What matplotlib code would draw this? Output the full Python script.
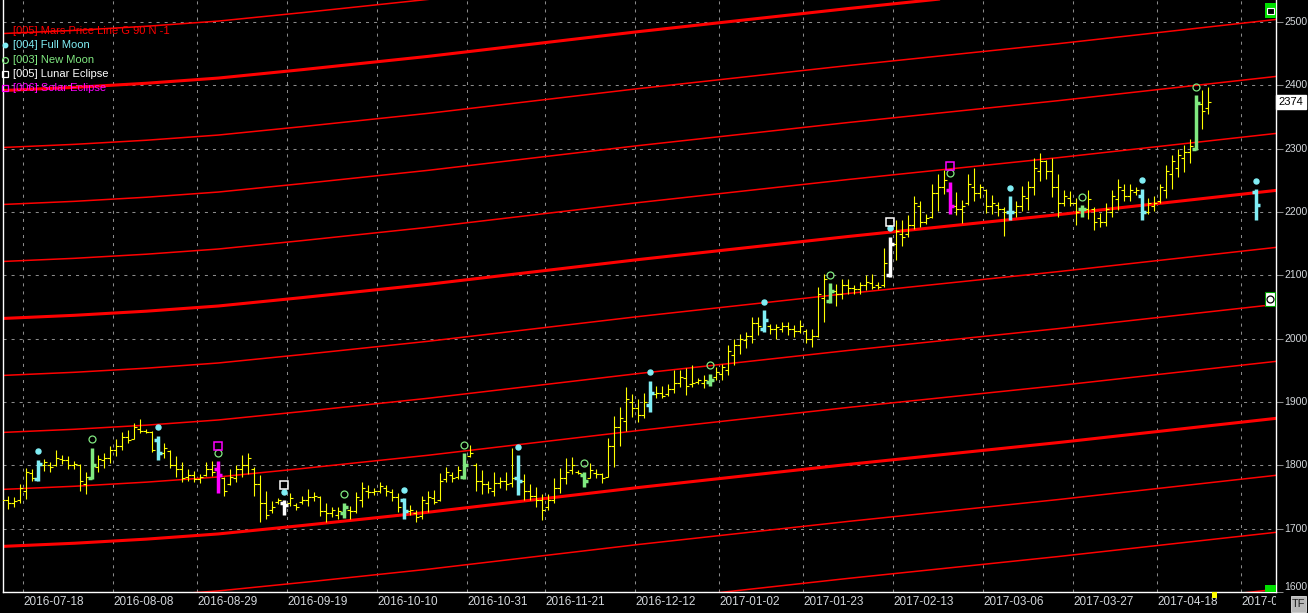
import matplotlib
matplotlib.use("Agg")
import matplotlib.pyplot as plt
from matplotlib.lines import Line2D
from matplotlib.patches import Rectangle
from matplotlib.transforms import Bbox, TransformedBbox, offset_copy, blended_transform_factory

plt.rcParams['font.family'] = ['Liberation Sans', 'DejaVu Sans']
plt.rcParams['lines.scale_dashes'] = False

# daily bars, oldest first; x position = bar number
bar_high = [
    1762, 1752, 1750, 1770, 1796, 1794, 1809, 1810, 1805, 1825,
    1817, 1815, 1807, 1802, 1789, 1828, 1817, 1820, 1830, 1842,
    1852, 1856, 1867, 1873, 1857, 1855, 1847, 1835, 1825, 1815,
    1805, 1795, 1791, 1786, 1805, 1807, 1807, 1782, 1795, 1801,
    1816, 1819, 1798, 1785, 1760, 1744, 1748, 1745, 1756, 1741,
    1751, 1762, 1758, 1751, 1740, 1735, 1735, 1741, 1736, 1758,
    1774, 1769, 1764, 1774, 1769, 1762, 1757, 1748, 1737, 1730,
    1751, 1759, 1761, 1788, 1798, 1790, 1799, 1819, 1832, 1803,
    1792, 1775, 1790, 1782, 1789, 1828, 1816, 1786, 1770, 1766,
    1755, 1755, 1780, 1796, 1811, 1813, 1793, 1790, 1803, 1795,
    1788, 1844, 1878, 1892, 1923, 1913, 1905, 1915, 1934, 1925,
    1925, 1929, 1951, 1950, 1953, 1959, 1938, 1943, 1945, 1956,
    1960, 1990, 1999, 2007, 2011, 2034, 2034, 2045, 2023, 2024,
    2027, 2027, 2022, 2030, 2015, 2015, 2082, 2102, 2088, 2086,
    2094, 2094, 2085, 2090, 2101, 2102, 2090, 2143, 2161, 2188,
    2188, 2195, 2225, 2218, 2197, 2244, 2260, 2267, 2248, 2232,
    2219, 2260, 2269, 2245, 2237, 2227, 2216, 2208, 2225, 2218,
    2241, 2249, 2285, 2293, 2282, 2285, 2260, 2235, 2234, 2222,
    2211, 2235, 2208, 2199, 2214, 2235, 2252, 2244, 2244, 2240,
    2237, 2222, 2225, 2245, 2274, 2290, 2299, 2306, 2316, 2385,
    2393, 2397,
]
bar_low = [
    1721, 1731, 1735, 1741, 1747, 1775, 1775, 1791, 1790, 1799,
    1802, 1795, 1794, 1760, 1755, 1778, 1789, 1796, 1804, 1815,
    1825, 1835, 1842, 1851, 1851, 1821, 1808, 1812, 1796, 1781,
    1774, 1775, 1774, 1772, 1783, 1783, 1756, 1752, 1769, 1773,
    1782, 1787, 1752, 1710, 1715, 1724, 1739, 1722, 1736, 1730,
    1739, 1736, 1743, 1720, 1711, 1718, 1715, 1717, 1715, 1724,
    1735, 1748, 1753, 1756, 1751, 1744, 1727, 1715, 1722, 1711,
    1715, 1727, 1739, 1744, 1774, 1773, 1778, 1778, 1814, 1759,
    1755, 1756, 1752, 1765, 1761, 1766, 1753, 1746, 1745, 1735,
    1713, 1729, 1741, 1756, 1770, 1786, 1786, 1766, 1780, 1780,
    1772, 1781, 1798, 1831, 1855, 1876, 1869, 1875, 1885, 1907,
    1906, 1910, 1914, 1923, 1911, 1924, 1929, 1922, 1925, 1935,
    1935, 1943, 1958, 1976, 1985, 1993, 2006, 2011, 2007, 2000,
    2011, 2006, 2003, 2009, 1993, 1987, 2003, 2027, 2056, 2052,
    2062, 2070, 2070, 2070, 2077, 2078, 2079, 2082, 2097, 2125,
    2146, 2161, 2173, 2176, 2182, 2190, 2202, 2228, 2197, 2195,
    2183, 2211, 2218, 2223, 2198, 2197, 2194, 2162, 2187, 2192,
    2201, 2203, 2227, 2249, 2252, 2224, 2193, 2209, 2209, 2180,
    2193, 2189, 2172, 2177, 2178, 2193, 2203, 2218, 2218, 2227,
    2187, 2197, 2201, 2215, 2222, 2236, 2255, 2264, 2278, 2298,
    2331, 2355,
]
bar_open = [
    1725, 1745, 1740, 1745, 1760, 1788, 1778, 1800, 1800, 1800,
    1810, 1808, 1800, 1800, 1770, 1780, 1798, 1808, 1812, 1825,
    1830, 1845, 1842, 1858, 1855, 1852, 1840, 1820, 1822, 1800,
    1795, 1782, 1785, 1778, 1785, 1795, 1795, 1780, 1770, 1780,
    1795, 1800, 1795, 1770, 1740, 1730, 1742, 1740, 1740, 1738,
    1742, 1745, 1750, 1750, 1728, 1725, 1722, 1725, 1730, 1728,
    1745, 1760, 1758, 1760, 1765, 1758, 1750, 1745, 1728, 1725,
    1720, 1740, 1748, 1745, 1778, 1785, 1782, 1782, 1815, 1800,
    1775, 1770, 1760, 1772, 1775, 1772, 1780, 1775, 1760, 1752,
    1745, 1735, 1745, 1765, 1780, 1792, 1790, 1785, 1780, 1788,
    1786, 1782, 1830, 1860, 1870, 1900, 1890, 1880, 1895, 1912,
    1915, 1912, 1920, 1930, 1938, 1928, 1932, 1930, 1932, 1940,
    1945, 1950, 1975, 1990, 1998, 2005, 2025, 2015, 2020, 2015,
    2015, 2020, 2015, 2012, 2012, 2000, 2005, 2065, 2060, 2075,
    2070, 2085, 2080, 2078, 2085, 2088, 2085, 2085, 2100, 2150,
    2165, 2165, 2180, 2210, 2185, 2192, 2230, 2240, 2235, 2210,
    2205, 2215, 2240, 2230, 2235, 2210, 2212, 2205, 2200, 2200,
    2210, 2222, 2240, 2265, 2280, 2265, 2240, 2215, 2222, 2215,
    2205, 2205, 2205, 2190, 2185, 2200, 2220, 2235, 2225, 2232,
    2225, 2200, 2210, 2218, 2235, 2260, 2270, 2285, 2295, 2300,
    2370, 2365,
]
bar_close = [
    1745, 1740, 1743, 1765, 1790, 1780, 1802, 1805, 1797, 1812,
    1808, 1800, 1802, 1775, 1782, 1800, 1810, 1812, 1825, 1830,
    1845, 1840, 1860, 1855, 1852, 1825, 1820, 1828, 1800, 1795,
    1780, 1785, 1778, 1782, 1795, 1790, 1785, 1760, 1782, 1795,
    1800, 1812, 1770, 1740, 1722, 1735, 1745, 1738, 1748, 1735,
    1745, 1750, 1752, 1728, 1725, 1730, 1728, 1735, 1728, 1750,
    1765, 1758, 1760, 1768, 1760, 1750, 1735, 1728, 1730, 1718,
    1745, 1750, 1742, 1775, 1790, 1780, 1792, 1800, 1820, 1775,
    1770, 1765, 1772, 1775, 1770, 1780, 1775, 1760, 1752, 1745,
    1730, 1745, 1765, 1780, 1790, 1800, 1788, 1775, 1792, 1786,
    1780, 1830, 1860, 1875, 1905, 1890, 1880, 1900, 1915, 1915,
    1910, 1920, 1930, 1940, 1925, 1930, 1935, 1935, 1935, 1948,
    1955, 1980, 1990, 2000, 2005, 2025, 2020, 2030, 2015, 2018,
    2020, 2015, 2012, 2020, 2000, 2005, 2070, 2095, 2075, 2070,
    2085, 2080, 2078, 2085, 2090, 2082, 2082, 2120, 2150, 2170,
    2160, 2180, 2215, 2185, 2190, 2230, 2240, 2250, 2210, 2205,
    2210, 2245, 2230, 2240, 2210, 2215, 2205, 2200, 2200, 2210,
    2225, 2240, 2270, 2280, 2265, 2240, 2215, 2225, 2215, 2200,
    2205, 2220, 2185, 2185, 2205, 2225, 2240, 2225, 2235, 2235,
    2200, 2215, 2215, 2240, 2265, 2280, 2290, 2295, 2305, 2372,
    2360, 2374,
]

# projected full-moon bar beyond the last session
proj_bar = 209
proj_ohlc = (2232, 2236, 2187, 2212)

full_moon_bars = [6, 26, 47, 67, 86, 108, 127, 148, 168, 190, 209]
new_moon_bars = [15, 36, 57, 77, 97, 118, 138, 158, 180, 199]
lunar_eclipse_bars = [47, 148]
solar_eclipse_bars = [36, 158]

# Mars price lines: every 90 points, shifted along the Mars curve
mars_base = 1672
mars_step = 90
mars_levels = range(-3, 10)
mars_bar = [0, 12, 24, 36, 50, 71, 106, 141, 176, 213]
mars_shift = [0, 5, 11.5, 19.7, 33, 54, 93, 129.5, 164, 203]

grid_bars = [3.5, 18.5, 32.5, 47.5, 62.5, 77.5, 90.5, 105.5, 119.5, 133.5,
             148.5, 163.5, 178.5, 192.5, 206.5]
grid_dates = ['2016-07-18', '2016-08-08', '2016-08-29', '2016-09-19', '2016-10-10',
              '2016-10-31', '2016-11-21', '2016-12-12', '2017-01-02', '2017-01-23',
              '2017-02-13', '2017-03-06', '2017-03-27', '2017-04-18', '2017-05-08']
price_ticks = list(range(1600, 2501, 100))

YELLOW = '#ffff00'
CYAN = '#80eef5'
GREEN = '#80e880'
MAGENTA = '#ff00ff'
WHITE = '#ffffff'
RED = '#ff0000'
TXT = '#d4d8dc'

W, H = 1308, 613
fig = plt.figure(figsize=(W / 100, H / 100), dpi=100, facecolor='black')
ax = fig.add_axes([3 / W, 21 / H, 1273 / W, 592 / H], facecolor='black')
ax.set_xlim(0.12, 212.3)
ax.set_ylim(1600, 2535)

for s in ['left', 'bottom', 'right']:
    ax.spines[s].set_color('white')
    ax.spines[s].set_linewidth(1.0)
ax.spines['top'].set_visible(False)

ax.set_xticks(grid_bars)
ax.set_yticks(price_ticks)
ax.grid(True, color='#8a8a8a', linestyle=(0, (2.2, 3.6)), linewidth=0.75, zorder=0)
ax.set_axisbelow(True)
ax.tick_params(axis='x', length=0, labelbottom=False)
ax.yaxis.tick_right()
ax.tick_params(axis='y', length=5, width=0.75, color='#8a8a8a', labelright=False)

# price labels on the right; the lowest one sits just above the TF button
ytag = blended_transform_factory(ax.transAxes, ax.transData)
for p in price_ticks:
    ax.text(1.0063, p, str(p), transform=ytag, ha='left',
            va='bottom' if p == price_ticks[0] else 'center',
            fontsize=7.5, color=TXT, clip_on=False)

# date labels, cut at the right edge of the plot like the source
clip = TransformedBbox(Bbox([[0, -1], [1, 1]]), ax.transAxes)
xdate = blended_transform_factory(ax.transData, ax.transAxes)
for xb, lbl in zip(grid_bars, grid_dates):
    t = ax.text(xb, -0.006, lbl, transform=xdate, ha='left', va='top',
                fontsize=8.5, color=TXT, clip_on=True)
    t.set_clip_box(clip)

# Mars price lines
for k in mars_levels:
    lvl = mars_base + k * mars_step
    bold = (k % 4 == 0)
    ax.plot(mars_bar, [lvl + s for s in mars_shift], color=RED,
            lw=2.2 if bold else 1.1, zorder=2, solid_capstyle='butt')


def bar_color(i):
    if i in lunar_eclipse_bars:
        return WHITE
    if i in solar_eclipse_bars:
        return MAGENTA
    if i in full_moon_bars:
        return CYAN
    if i in new_moon_bars:
        return GREEN
    return YELLOW


def draw_bar(i, o, h, l, c):
    col = bar_color(i)
    special = col != YELLOW
    lw = 2.5 if special else 0.8
    tk = 0.65 if special else 0.5
    z = 4 if special else 3
    ax.vlines(i, l, h, color=col, lw=lw, zorder=z)
    ax.hlines(o, i - tk, i, color=col, lw=lw, zorder=z)
    ax.hlines(c, i, i + tk, color=col, lw=lw, zorder=z)


for i in range(len(bar_high)):
    draw_bar(i, bar_open[i], bar_high[i], bar_low[i], bar_close[i])
draw_bar(proj_bar, *proj_ohlc)


def high_of(i):
    return proj_ohlc[1] if i == proj_bar else bar_high[i]


up1 = offset_copy(ax.transData, fig=fig, y=6.0, units='points')
up2 = offset_copy(ax.transData, fig=fig, y=11.0, units='points')
for i in full_moon_bars:
    ax.plot(i, high_of(i), 'o', ms=3.6, color=CYAN, mec=CYAN, transform=up1,
            zorder=5, clip_on=False)
for i in new_moon_bars:
    ax.plot(i, high_of(i), 'o', ms=5.0, mfc='none', mec=GREEN, mew=0.9,
            transform=up1, zorder=5)
for i in lunar_eclipse_bars:
    ax.plot(i, high_of(i), 's', ms=5.2, mfc='none', mec=WHITE, mew=1.1,
            transform=up2, zorder=5)
for i in solar_eclipse_bars:
    ax.plot(i, high_of(i), 's', ms=5.2, mfc='none', mec=MAGENTA, mew=1.1,
            transform=up2, zorder=5)

# last price tag
ax.text(1.0118, bar_close[-1], str(bar_close[-1]), transform=ytag, ha='center',
        va='center', fontsize=8, color='black', clip_on=False, zorder=6,
        bbox=dict(boxstyle='square,pad=0.2', fc='white', ec='white'))


def px_rect(x0, y0, x1, y1, **kw):
    fig.add_artist(Rectangle((x0 / W, 1 - y1 / H), (x1 - x0) / W, (y1 - y0) / H,
                             transform=fig.transFigure, **kw))


# legend
legend = [
    ('[005] Mars Price Line G 90 N -1', RED, None),
    ('[004] Full Moon', CYAN, dict(marker='o', ms=3.2, color=CYAN)),
    ('[003] New Moon', GREEN, dict(marker='o', ms=4.2, mfc='none', mec=GREEN, mew=0.9)),
    ('[005] Lunar Eclipse', WHITE, dict(marker='s', ms=4.2, mfc='none', mec=WHITE, mew=0.9)),
    ('[006] Solar Eclipse', MAGENTA, dict(marker='s', ms=4.2, mfc='none', mec=MAGENTA, mew=0.9)),
]
for n, (txt, col, mk) in enumerate(legend):
    ypx = 31 + n * 14.3
    fig.text(13 / W, 1 - ypx / H, txt, color=col, fontsize=8, va='center', ha='left')
    if mk:
        fig.add_artist(Line2D([5.5 / W], [1 - ypx / H], transform=fig.transFigure,
                              linestyle='none', **mk))

# chart widgets on the right edge
px_rect(1265, 3, 1276, 18, fc='#00e000', ec='none')
px_rect(1267, 8, 1274, 14, fc='black', ec='white', lw=0.8)
px_rect(1265, 585, 1276, 592, fc='#00e000', ec='none')
px_rect(1265, 292, 1275, 306, fc='white', ec='#00a000', lw=0.8)
fig.add_artist(Line2D([1270 / W], [1 - 299 / H], transform=fig.transFigure,
                      marker='o', ms=5, mfc='white', mec='black', mew=0.9))
px_rect(1212, 592, 1217, 598, fc=YELLOW, ec='none')
px_rect(1291, 596, 1306, 612, fc='#b8b8b8', ec='#e0e0e0', lw=0.6, zorder=10)
fig.text(1298.5 / W, 1 - 604 / H, 'TF', color='#202020', fontsize=8,
         ha='center', va='center', zorder=11)

fig.savefig('out.png', dpi=100, facecolor='black')
